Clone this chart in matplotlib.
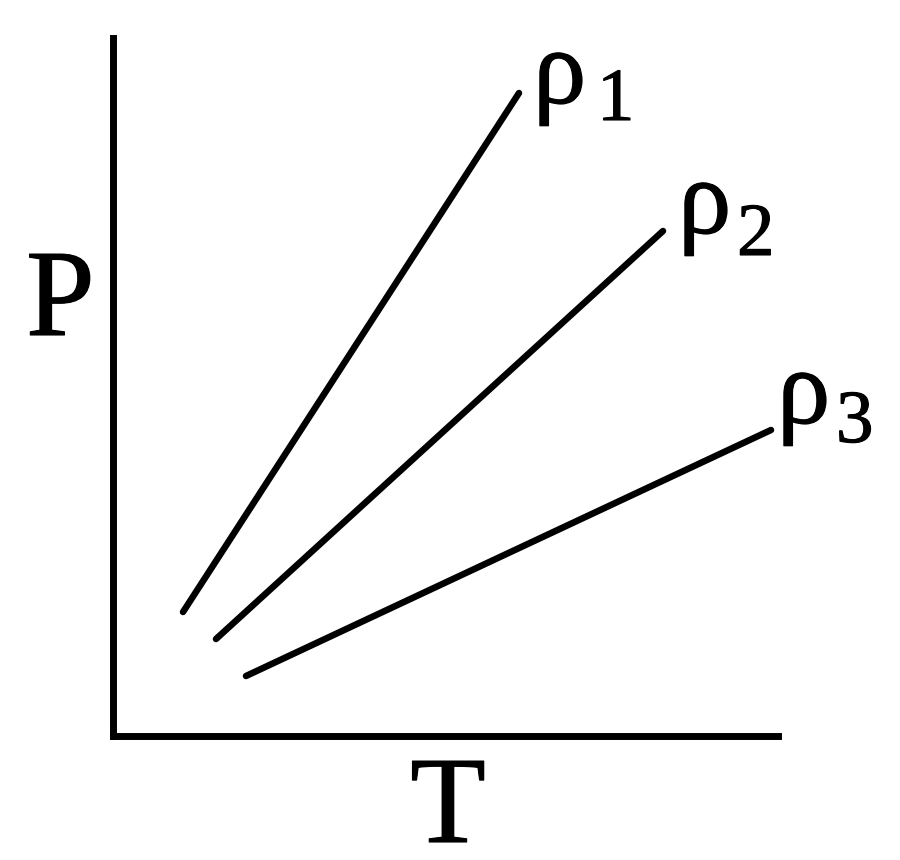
import matplotlib
matplotlib.use("Agg")
import matplotlib.pyplot as plt
import matplotlib.patheffects as pe

# isochores: endpoints (T, P) of each line, arbitrary units
labels = ["1", "2", "3"]
t_start = [70, 103, 133]
p_start = [124, 97, 60]
t_end = [406, 550, 658]
p_end = [643, 505, 306]

# axis extents
t_max = 665
p_max = 698

fig = plt.figure(figsize=(9, 8.6), dpi=100)
ax = fig.add_axes([0, 0, 1, 1])
ax.set_xlim(-113, 787)
ax.set_ylim(-124, 736)
ax.axis("off")

serif = ["Liberation Serif", "DejaVu Serif"]
# a little extra weight so the glyphs look like the scanned figure
heavy = [pe.withStroke(linewidth=0.8, foreground="black")]

# axes drawn as thick lines
ax.plot([0, 0], [0, p_max], color="black", lw=5, solid_capstyle="projecting")
ax.plot([0, t_max], [0, 0], color="black", lw=5, solid_capstyle="projecting")

# rho label offsets (relative to end of line)
rho_dx = [14, 15, 6]
rho_dy = [-10, -2, 7]
sub_dx = [64, 59, 59]
sub_dy = [-17, -22, -19]

for i in range(3):
    ax.plot([t_start[i], t_end[i]], [p_start[i], p_end[i]],
            color="black", lw=4.7, solid_capstyle="round")
    x0 = t_end[i] + rho_dx[i]
    y0 = p_end[i] + rho_dy[i]
    ax.text(x0, y0, "ρ", family=serif, fontsize=77, ha="left", va="baseline",
            path_effects=heavy)
    ax.text(x0 + sub_dx[i], y0 + sub_dy[i], labels[i], family=serif,
            fontsize=54, ha="left", va="baseline", path_effects=heavy)

ax.text(-87, 401, "P", family=serif, fontsize=89, ha="left", va="baseline",
        path_effects=heavy)
ax.text(335, -106, "T", family=serif, fontsize=89, ha="center", va="baseline",
        path_effects=heavy)

fig.savefig("out.png", dpi=100, facecolor="white")
